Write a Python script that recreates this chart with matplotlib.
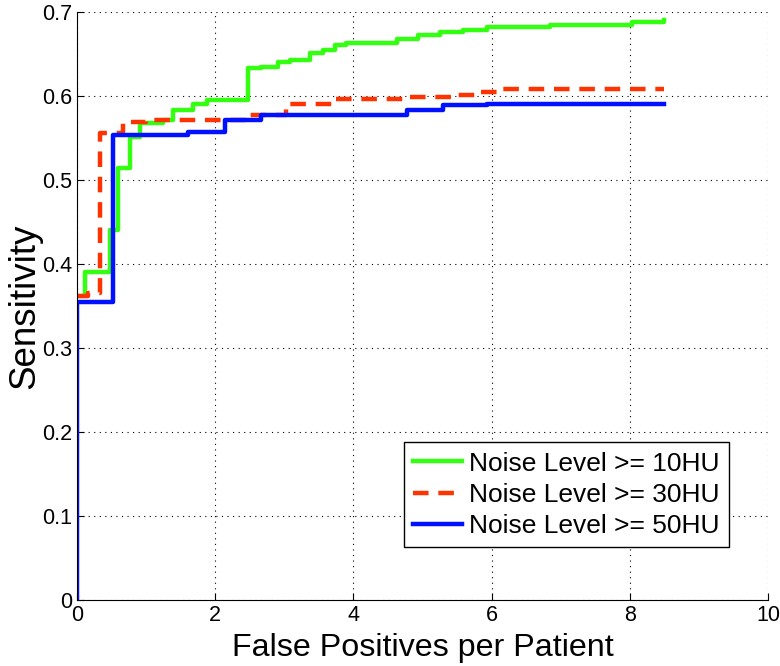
import matplotlib
matplotlib.use('Agg')
import matplotlib.pyplot as plt
from matplotlib.ticker import FormatStrFormatter

plt.rcParams['font.family'] = ['Liberation Sans', 'DejaVu Sans']

# --- data (step curves) ---
fp_10 = [0, 0.12, 0.48, 0.60, 0.77, 0.91, 1.25, 1.39, 1.68, 1.88, 2.47, 2.67, 2.91,
         3.08, 3.37, 3.56, 3.73, 3.90, 4.63, 4.93, 5.25, 5.59, 5.93, 6.84, 8.03, 8.50]
sens_10 = [0.362, 0.390, 0.440, 0.514, 0.551, 0.568, 0.571, 0.583, 0.591, 0.595, 0.633,
           0.635, 0.641, 0.643, 0.651, 0.655, 0.661, 0.663, 0.668, 0.673, 0.676, 0.679,
           0.682, 0.685, 0.688, 0.690]

fp_30 = [0, 0.16, 0.33, 0.67, 1.00, 2.45, 3.03, 3.73, 4.72, 5.45, 5.76, 6.12, 8.50]
sens_30 = [0.362, 0.365, 0.556, 0.569, 0.571, 0.577, 0.591, 0.597, 0.599, 0.601,
           0.605, 0.608, 0.608]

fp_50 = [0, 0, 0.52, 1.60, 2.14, 2.67, 4.77, 5.30, 5.93, 8.50]
sens_50 = [0, 0.355, 0.553, 0.557, 0.571, 0.577, 0.583, 0.589, 0.591, 0.591]

labels = ['Noise Level >= 10HU', 'Noise Level >= 30HU', 'Noise Level >= 50HU']

fig = plt.figure(figsize=(7.8, 6.66), dpi=100)
ax = fig.add_axes([0.0987, 0.099, 0.8859, 0.883])

ax.plot(fp_10, sens_10, drawstyle='steps-post', color='#33ff11', lw=3.2, label=labels[0])
ax.plot(fp_30, sens_30, drawstyle='steps-post', color='#ff3300', lw=3.2,
        linestyle=(0, (3.5, 2.2)), label=labels[1])
ax.plot(fp_50, sens_50, drawstyle='steps-post', color='#0011ff', lw=3.2, label=labels[2])

ax.set_xlim(0, 10)
ax.set_ylim(0, 0.7)
ax.set_xticks(range(0, 11, 2))
ax.set_yticks([i / 10 for i in range(8)])
ax.yaxis.set_major_formatter(FormatStrFormatter('%g'))
ax.tick_params(direction='in', length=5, labelsize=15.5, top=False, right=False)
ax.grid(True, linestyle=(0, (1, 4)), color='black', linewidth=0.8)

ax.spines['top'].set_visible(False)
ax.spines['right'].set_visible(False)

ax.set_xlabel('False Positives per Patient', fontsize=23.2, labelpad=5)
ax.set_ylabel('Sensitivity', fontsize=26.5, labelpad=0)

leg = ax.legend(loc='lower right', bbox_to_anchor=(0.9436, 0.09), borderaxespad=0,
                fontsize=19, handlelength=1.85, handletextpad=0.27, labelspacing=0.27,
                fancybox=False, framealpha=1, edgecolor='black', borderpad=0.35)
leg.get_frame().set_linewidth(1.0)

fig.savefig('out.png', dpi=100)
